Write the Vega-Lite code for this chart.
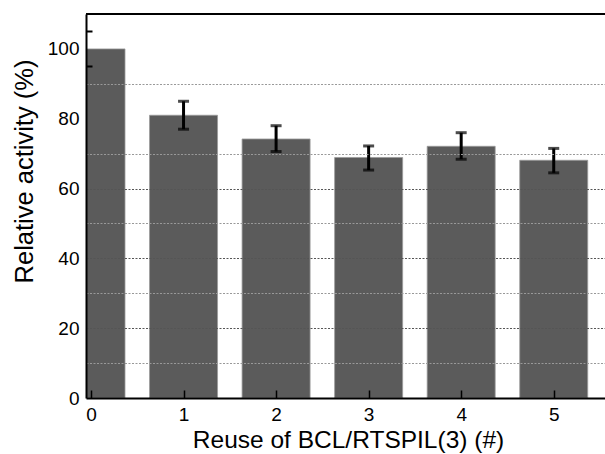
{
  "$schema": "https://vega.github.io/schema/vega-lite/v6.json",
  "width": 519,
  "height": 384,
  "autosize": {"type": "none"},
  "padding": {"left": 86, "top": 14, "right": 0, "bottom": 56},
  "background": "white",
  "config": {
    "view": {"stroke": null},
    "font": "Liberation Sans",
    "axis": {"labelFont": "Liberation Sans", "titleFont": "Liberation Sans", "labelColor": "black", "titleColor": "black", "titleFontWeight": "normal"}
  },
  "data": {
    "values": [
      {"reuse": 0, "activity": 100},
      {"reuse": 1, "activity": 81.0, "lo": 77.0, "hi": 85.0},
      {"reuse": 2, "activity": 74.2, "lo": 70.6, "hi": 78.0},
      {"reuse": 3, "activity": 68.9, "lo": 65.3, "hi": 72.2},
      {"reuse": 4, "activity": 72.1, "lo": 68.4, "hi": 76.0},
      {"reuse": 5, "activity": 68.1, "lo": 64.5, "hi": 71.5}
    ]
  },
  "layer": [
    {
      "mark": {"type": "bar", "width": 68, "color": "#5b5b5b", "stroke": "#9a9a9a", "strokeWidth": 0.8, "clip": true},
      "encoding": {
        "x": {
          "field": "reuse", "type": "quantitative",
          "scale": {"domain": [0, 5.5], "nice": false, "zero": false},
          "axis": {
            "values": [0, 0.5, 1, 1.5, 2, 2.5, 3, 3.5, 4, 4.5, 5],
            "tickCount": 30,
            "format": "d",
            "labelExpr": "datum.value % 1 == 0 ? datum.label : ''",
            "labelOverlap": false,
            "grid": false,
            "zindex": 1,
            "domainColor": "black", "domainWidth": 2,
            "tickColor": "black", "tickWidth": 1.5,
            "tickSize": -8,
            "tickDash": {"condition": {"test": "datum.value % 1 != 0", "value": [5, 20]}, "value": []},
            "labelFontSize": 19, "labelPadding": 15, "labelFlush": false,
            "title": "Reuse of BCL/RTSPIL(3) (#)", "titleFontSize": 24.5,
            "titleX": 262, "titleY": 49, "titleBaseline": "alphabetic", "titleAlign": "center"
          }
        },
        "y": {
          "field": "activity", "type": "quantitative",
          "scale": {"domain": [0, 110], "nice": false},
          "axis": {
            "values": [0, 10, 20, 30, 40, 50, 60, 70, 80, 90, 95, 100, 105],
            "tickCount": 30,
            "format": "d",
            "labelExpr": "datum.value % 20 == 0 ? datum.label : ''",
            "labelOverlap": false,
            "zindex": 1,
            "grid": true,
            "gridDash": [2, 1.5],
            "gridWidth": 1,
            "gridColor": {"condition": {"test": "datum.value == 20 || datum.value == 40 || datum.value == 60", "value": "#555555"}, "value": "#999999"},
            "gridOpacity": {"condition": {"test": "(datum.value > 0 && datum.value <= 70) || datum.value == 90", "value": 1}, "value": 0},
            "domainColor": "black", "domainWidth": 2,
            "tickColor": "black", "tickWidth": 2,
            "tickSize": -6,
            "tickOpacity": {"condition": {"test": "datum.value == 95 || datum.value == 105", "value": 1}, "value": 0},
            "labelFontSize": 19, "labelPadding": 13,
            "title": "Relative activity (%)", "titleFontSize": 25.5,
            "titleX": -54, "titleY": 157, "titleAngle": -90, "titleBaseline": "alphabetic", "titleAlign": "center"
          }
        }
      }
    },
    {
      "mark": {"type": "rule", "color": "black", "strokeWidth": 3},
      "encoding": {
        "x": {"field": "reuse", "type": "quantitative"},
        "y": {"field": "lo", "type": "quantitative"},
        "y2": {"field": "hi"}
      }
    },
    {
      "mark": {"type": "tick", "color": "black", "orient": "horizontal", "size": 11, "thickness": 3},
      "encoding": {
        "x": {"field": "reuse", "type": "quantitative"},
        "y": {"field": "hi", "type": "quantitative"}
      }
    },
    {
      "mark": {"type": "tick", "color": "black", "orient": "horizontal", "size": 11, "thickness": 3},
      "encoding": {
        "x": {"field": "reuse", "type": "quantitative"},
        "y": {"field": "lo", "type": "quantitative"}
      }
    },
    {
      "mark": {"type": "rule", "color": "black", "strokeWidth": 2},
      "encoding": {"y": {"datum": 110}}
    }
  ]
}
